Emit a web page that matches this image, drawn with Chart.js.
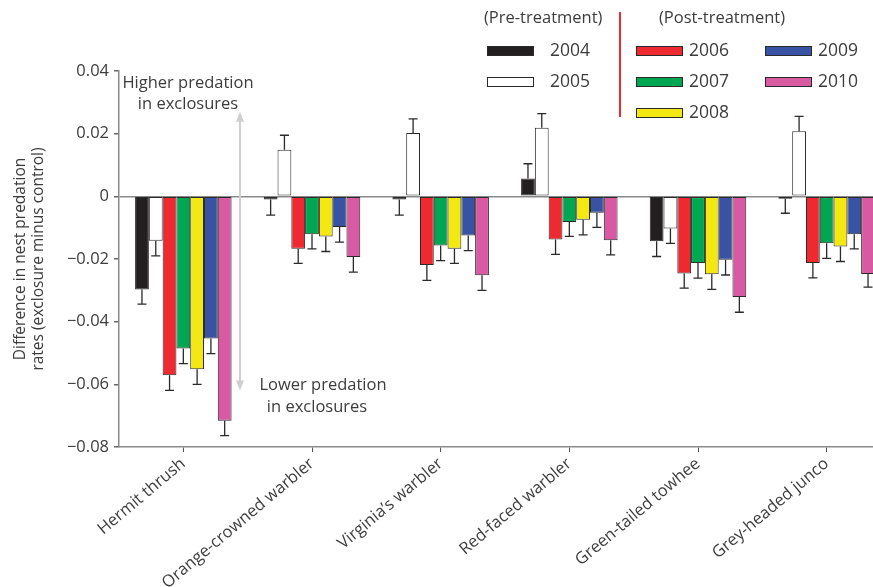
<!DOCTYPE html>
<html>
<head>
<meta charset="utf-8">
<script src="https://cdn.jsdelivr.net/npm/chart.js@4"></script>
<style>
  html, body { margin: 0; padding: 0; background: #fff; overflow: hidden; }
  #wrap { width: 891px; height: 587px; }
</style>
</head>
<body>
<div id="wrap"><canvas id="chart"></canvas></div>
<script>
const especes = ['Hermit thrush', 'Orange-crowned warbler', 'Virginia\u2019s warbler', 'Red-faced warbler', 'Green-tailed towhee', 'Grey-headed junco'];
const annees = ['2004', '2005', '2006', '2007', '2008', '2009', '2010'];
const couleurs = ['#231f20', '#ffffff', '#ee2a30', '#00a651', '#f3e812', '#3953a4', '#d75aa3'];

const v2004 = [-0.0297, -0.0010, -0.0010, 0.0057, -0.0143, -0.0008];
const v2005 = [-0.0142, 0.0149, 0.0202, 0.0219, -0.0103, 0.0208];
const v2006 = [-0.0571, -0.0167, -0.0219, -0.0138, -0.0246, -0.0213];
const v2007 = [-0.0486, -0.0121, -0.0157, -0.0082, -0.0213, -0.0150];
const v2008 = [-0.0552, -0.0128, -0.0167, -0.0075, -0.0249, -0.0160];
const v2009 = [-0.0454, -0.0098, -0.0125, -0.0052, -0.0202, -0.0121];
const v2010 = [-0.0716, -0.0194, -0.0252, -0.0140, -0.0321, -0.0248];

const e2004 = [0.0047, 0.0050, 0.0050, 0.0047, 0.0049, 0.0046];
const e2005 = [0.0048, 0.0046, 0.0045, 0.0045, 0.0047, 0.0047];
const e2006 = [0.0048, 0.0047, 0.0049, 0.0047, 0.0047, 0.0047];
const e2007 = [0.0048, 0.0047, 0.0048, 0.0046, 0.0048, 0.0048];
const e2008 = [0.0048, 0.0048, 0.0047, 0.0048, 0.0048, 0.0048];
const e2009 = [0.0048, 0.0048, 0.0048, 0.0047, 0.0049, 0.0047];
const e2010 = [0.0048, 0.0048, 0.0048, 0.0047, 0.0049, 0.0042];

const valeurs = [v2004, v2005, v2006, v2007, v2008, v2009, v2010];
const erreurs = [e2004, e2005, e2006, e2007, e2008, e2009, e2010];

const police = '"Open Sans", "Noto Sans", sans-serif';
const gris = '#3c3c3c';

// Barres d'erreur (un seul côté, vers l'extérieur)
const barresErreur = {
    id: 'barresErreur',
    afterDatasetsDraw(chart) {
        const ctx = chart.ctx;
        const y = chart.scales.y;
        ctx.save();
        ctx.strokeStyle = '#2a2a2a';
        ctx.lineWidth = 1.3;
        chart.data.datasets.forEach((ds, i) => {
            const meta = chart.getDatasetMeta(i);
            meta.data.forEach((bar, j) => {
                const v = ds.data[j];
                const e = erreurs[i][j];
                const fin = v >= 0 ? v + e : v - e;
                const y0 = y.getPixelForValue(v);
                const y1 = y.getPixelForValue(fin);
                ctx.beginPath();
                ctx.moveTo(bar.x, y0);
                ctx.lineTo(bar.x, y1);
                ctx.moveTo(bar.x - 4.5, y1);
                ctx.lineTo(bar.x + 4.5, y1);
                ctx.stroke();
            });
        });
        ctx.restore();
    }
};

// Flèches et textes d'annotation
const annotations = {
    id: 'annotations',
    beforeDatasetsDraw(chart) {
        const ctx = chart.ctx;
        const x = chart.scales.x, y = chart.scales.y;
        const pas = x.getPixelForValue(1) - x.getPixelForValue(0);
        const ax = x.getPixelForValue(0) + 0.44 * pas;
        const y0 = y.getPixelForValue(0);
        const yh = y.getPixelForValue(0.027);
        const yb = y.getPixelForValue(-0.062);
        ctx.save();
        ctx.strokeStyle = '#cfcfcf';
        ctx.fillStyle = '#cfcfcf';
        ctx.lineWidth = 2;
        ctx.beginPath();
        ctx.moveTo(ax, y0); ctx.lineTo(ax, yh + 8);
        ctx.moveTo(ax, y0); ctx.lineTo(ax, yb - 8);
        ctx.stroke();
        ctx.beginPath();
        ctx.moveTo(ax, yh); ctx.lineTo(ax - 4, yh + 10); ctx.lineTo(ax + 4, yh + 10); ctx.closePath();
        ctx.moveTo(ax, yb); ctx.lineTo(ax - 4, yb - 10); ctx.lineTo(ax + 4, yb - 10); ctx.closePath();
        ctx.fill();
        ctx.restore();
    },
    afterDraw(chart) {
        const ctx = chart.ctx;
        ctx.save();
        ctx.fillStyle = gris;
        ctx.font = '16.5px ' + police;
        ctx.textAlign = 'center';
        ctx.textBaseline = 'middle';
        ctx.fillText('Higher predation', 188, 83);
        ctx.fillText('in exclosures', 188, 104);
        ctx.fillText('Lower predation', 323, 385);
        ctx.fillText('in exclosures', 317, 407);
        ctx.restore();
    }
};

// Légende dessinée à la main
const legende = {
    id: 'legende',
    afterDraw(chart) {
        const ctx = chart.ctx;
        ctx.save();
        ctx.font = '16.5px ' + police;
        ctx.fillStyle = gris;
        ctx.textBaseline = 'middle';
        ctx.textAlign = 'left';
        ctx.fillText('(Pre-treatment)', 484, 18);
        ctx.fillText('(Post-treatment)', 659, 18);
        ctx.strokeStyle = '#ee2a30';
        ctx.lineWidth = 2;
        ctx.beginPath();
        ctx.moveTo(620, 12); ctx.lineTo(620, 117);
        ctx.stroke();
        const places = [[487, 51], [487, 82], [636, 51], [636, 82], [636, 113], [765, 51], [765, 82]];
        ctx.font = '17.5px ' + police;
        annees.forEach((a, i) => {
            const [px, py] = places[i];
            ctx.fillStyle = couleurs[i];
            ctx.fillRect(px, py - 5, 47, 10);
            ctx.strokeStyle = '#2a2a2a';
            ctx.lineWidth = 1;
            ctx.strokeRect(px + 0.5, py - 4.5, 46, 9);
            ctx.fillStyle = gris;
            ctx.fillText(a, i < 2 ? px + 63 : px + 53, py);
        });
        ctx.restore();
    }
};

new Chart(document.getElementById('chart'), {
    type: 'bar',
    data: {
        labels: especes,
        datasets: annees.map((a, i) => ({
            label: a,
            data: valeurs[i],
            backgroundColor: couleurs[i],
            borderColor: '#2a2a2a',
            borderWidth: 1,
            borderSkipped: false,
            categoryPercentage: 0.75,
            barPercentage: 1
        }))
    },
    options: {
        responsive: true,
        maintainAspectRatio: false,
        animation: false,
        layout: { padding: { top: 71, right: 0, left: 0, bottom: 0 } },
        plugins: { legend: { display: false }, tooltip: { enabled: false } },
        scales: {
            x: {
                afterFit: s => { s.height = 140; },
                border: { color: '#8a8a8a', width: 1.5 },
                grid: { offset: false, drawOnChartArea: false, tickLength: 5, color: '#555' },
                ticks: {
                    autoSkip: false, minRotation: 40, maxRotation: 40,
                    color: gris, padding: 2,
                    font: { family: police, size: 16.5 }
                }
            },
            y: {
                min: -0.08, max: 0.04,
                afterFit: s => { s.width = 119; },
                border: { color: '#8a8a8a', width: 1.5 },
                grid: {
                    color: c => c.tick && c.tick.value === 0 ? '#8a8a8a' : 'rgba(0,0,0,0)',
                    lineWidth: 1.5,
                    tickColor: '#666',
                    tickLength: 5
                },
                ticks: {
                    stepSize: 0.02, color: gris, padding: 5,
                    font: { family: police, size: 16.5 },
                    callback: v => Math.abs(v) < 1e-9 ? '0' : v.toFixed(2).replace('-', '\u2212')
                },
                title: {
                    display: true,
                    text: ['Difference in nest predation', 'rates (exclosure minus control)'],
                    color: gris,
                    font: { family: police, size: 15.5 },
                    padding: { top: 11, bottom: 0 }
                }
            }
        }
    },
    plugins: [annotations, barresErreur, legende]
});
</script>
</body>
</html>
